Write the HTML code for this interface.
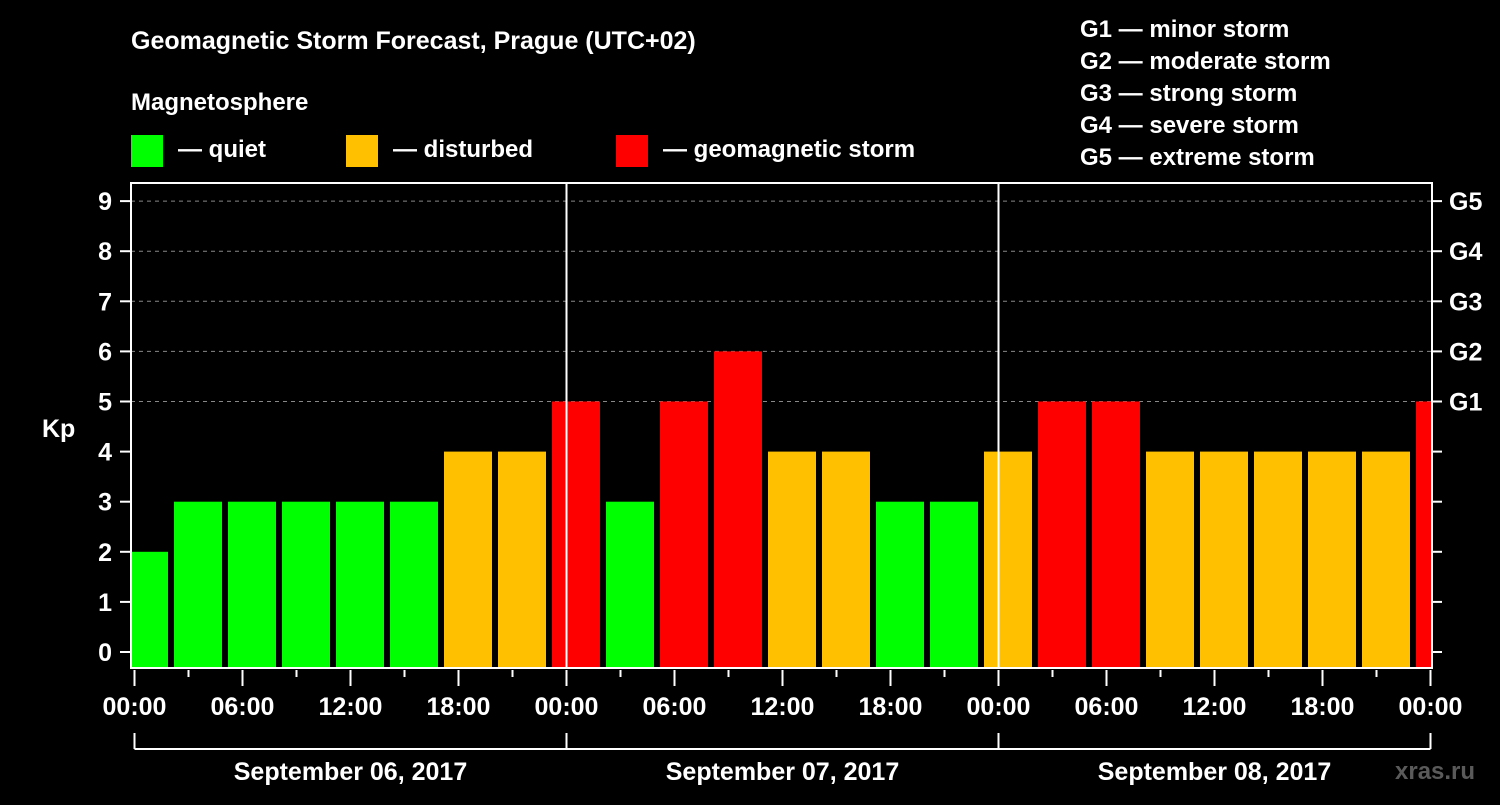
<!DOCTYPE html>
<html><head><meta charset="utf-8"><style>
body{margin:0;background:#000;width:1500px;height:800px;overflow:hidden}
svg text{font-family:"Liberation Sans",Arial,sans-serif;font-weight:bold;fill:#fff}
</style></head><body>
<svg id="chart" width="1500" height="800" viewBox="0 0 1500 800">
<rect width="1500" height="800" fill="#000"/>
<text x="131" y="49" font-size="25">Geomagnetic Storm Forecast, Prague (UTC+02)</text>
<text x="131" y="110" font-size="24">Magnetosphere</text>
<g>
<rect x="131" y="135" width="32" height="32" fill="#00ff00"/>
<text x="178" y="157" font-size="24">— quiet</text>
<rect x="346" y="135" width="32" height="32" fill="#ffc000"/>
<text x="393" y="157" font-size="24">— disturbed</text>
<rect x="616" y="135" width="32" height="32" fill="#ff0000"/>
<text x="663" y="157" font-size="24">— geomagnetic storm</text>
</g>
<g font-size="24">
<text x="1080" y="37">G1 — minor storm</text>
<text x="1080" y="69">G2 — moderate storm</text>
<text x="1080" y="101">G3 — strong storm</text>
<text x="1080" y="133">G4 — severe storm</text>
<text x="1080" y="165">G5 — extreme storm</text>
</g>
<text x="42" y="437" font-size="25">Kp</text>
<text x="1395" y="779" font-size="24" fill="#666" style="fill:#5a5a5a">xras.ru</text>
<g id="layer"></g>
</svg>
<script>
const kpValues=[2,3,3,3,3,3,4,4,5,3,5,6,4,4,3,3,4,5,5,4,4,4,4,4,5];
const yTicks=[0,1,2,3,4,5,6,7,8,9];
const gLabels=["","","","","","G1","G2","G3","G4","G5"];
const xTickLabels=["00:00","06:00","12:00","18:00","00:00","06:00","12:00","18:00","00:00","06:00","12:00","18:00","00:00"];
const dayLabels=["September 06, 2017","September 07, 2017","September 08, 2017"];
const L=131,R=1432,T=183,B=668,X0=134.5,PXH=18;
const xs=h=>X0+h*PXH;
const ys=v=>652-v*50.1;
const NS="http://www.w3.org/2000/svg";
const layer=document.getElementById('layer');
function mk(tag,attrs,parent){const e=document.createElementNS(NS,tag);for(const k in attrs)e.setAttribute(k,attrs[k]);(parent||layer).appendChild(e);return e;}
// grid
yTicks.forEach(v=>{if(v>=5){const g=mk('line',{x1:L,x2:R,y1:ys(v),y2:ys(v),stroke:'#888','stroke-dasharray':'4,4','stroke-width':1});

}});
// bars
const clip=mk('clipPath',{id:'pc'});mk('rect',{x:L+1,y:T,width:R-L-2,height:B-T},clip);
kpValues.forEach((v,i)=>{const h0=3*i-1;const c=v>=5?'#ff0000':(v>=4?'#ffc000':'#00ff00');
const r=mk('rect',{x:xs(h0)+3.5,y:ys(v),width:48,height:B-ys(v),fill:c,'clip-path':'url(#pc)'});

});
// day separators
[24,48].forEach(h=>{const l=mk('line',{x1:xs(h),x2:xs(h),y1:T,y2:B,stroke:'#fff','stroke-width':2});

});
// frame
const f=mk('rect',{x:L,y:T,width:R-L,height:B-T,fill:'none',stroke:'#fff','stroke-width':2});


// y ticks
yTicks.forEach((v,i)=>{mk('line',{x1:120,x2:L,y1:ys(v),y2:ys(v),stroke:'#fff','stroke-width':2});
mk('line',{x1:R,x2:1442,y1:ys(v),y2:ys(v),stroke:'#fff','stroke-width':2});
const t=mk('text',{x:112,y:ys(v)+9,'text-anchor':'end','font-size':25});t.textContent=v;


if(gLabels[i]){const g=mk('text',{x:1449,y:ys(v)+9,'font-size':25});g.textContent=gLabels[i];

}});
// x ticks
for(let h=0;h<=72;h+=3){const major=h%6===0;mk('line',{x1:xs(h),x2:xs(h),y1:B+2,y2:major?686:677,stroke:'#fff','stroke-width':2});}
xTickLabels.forEach((s,i)=>{const t=mk('text',{x:xs(i*6),y:715,'text-anchor':'middle','font-size':25});t.textContent=s;

});
// day bracket
mk('line',{x1:xs(0),x2:xs(72),y1:749,y2:749,stroke:'#fff','stroke-width':2});
[0,24,48,72].forEach(h=>mk('line',{x1:xs(h),x2:xs(h),y1:733,y2:749,stroke:'#fff','stroke-width':2}));
dayLabels.forEach((s,i)=>{const t=mk('text',{x:xs(i*24+12),y:780,'text-anchor':'middle','font-size':25});t.textContent=s;

});
</script>
</body></html>
